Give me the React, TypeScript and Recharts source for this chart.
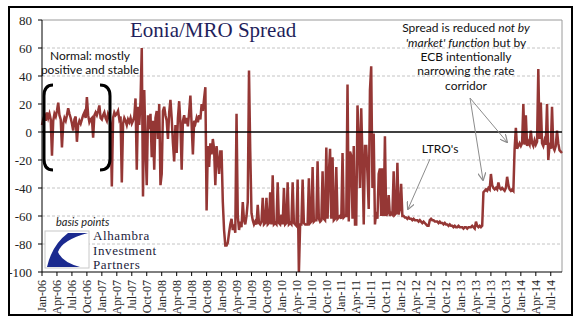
import {
  CartesianGrid,
  Line,
  LineChart,
  ReferenceLine,
  XAxis,
  YAxis,
} from "recharts";

// Eonia minus MRO, basis points, four readings per month from Jan-06
const y2006 = [
  5, 9, 12, 8, 14, 10, 13, 9, -17, 8, 13, 11, 15, 21, 12, 9, -11, 6, 10, 8,
  12, 17, 13, 10, 6, 1, 9, 11, -7, 5, 8, 6, 9, 12, 14, 10, 25, 12, 7, 9, 10,
  -4, 12, 14, 12, 15, 19, 10,
];
const y2007 = [
  9, 12, 14, 10, 8, 13, 11, 6, -39, 10, 14, 12, 13, 15, 9, 11, -36, 6, 10, 8,
  5, 9, 7, 10, 6, 8, 11, 24, -27, 18, 5, 22, 60, -46, 30, -10, -38, 12, 2, 13,
  -18, 8, -27, 10, 15, -5, 20, -38,
];
const y2008 = [
  -30, 15, 18, 12, 8, -5, 14, 23, 10, -8, -21, 5, -15, 10, 22, 6, -27, 8, 12,
  6, 10, 4, 14, 26, 5, -16, 8, 6, 10, 7, 12, 9, 20, 15, 24, 32, -56, -10, -25,
  -8, -16, -5, -12, -38, -10, -20, -30, -14,
];
const y2009 = [
  -14, -50, -70, -81, -81, -79, -72, -66, -62, -70, -66, -72, 13, -60, -70,
  -64, -68, -50, -63, -66, -60, -50, 44, -14, -58, -63, -66, -64, -66, -52, -65,
  -66, -64, -47, -66, -65, -47, -66, -65, -43, -66, -31, -66, -65, -66, -36,
  -65, -66,
];
const y2010 = [
  -59, -66, -40, -66, -65, -36, -66, -65, -66, -36, -65, -66, -67, -34, -101,
  -66, -66, -34, -65, -66, -66, -66, -33, -65, -64, -25, -64, -63, -63, -21,
  -62, -64, -63, -28, -62, -63, -11, -62, -30, -12, -62, -18, -63, -62, -25,
  -62, -61, -60,
];
const y2011 = [
  -62, -15, -61, -60, -60, 34, -64, -14, -17, -62, -10, -66, -66, 19, -5, -40,
  17, -20, -66, -10, -10, -30, -55, 30, 47, -40, -1, -66, -57, -62, -30, -26,
  -60, -26, -60, -3, -60, -58, -45, -60, -58, -59, -28, -59, -58, -22, -59,
  -55,
];
const y2012 = [
  -37, -60, -60, -61, -61, -62, -61, -62, -62, -63, -62, -63, -63, -63, -64,
  -63, -64, -65, -64, -65, -66, -67, -67, -63, -62, -63, -63, -64, -64, -64,
  -65, -64, -65, -65, -66, -65, -66, -66, -67, -66, -67, -67, -68, -67, -68,
  -68, -67, -68,
];
const y2013 = [
  -68, -68, -69, -68, -68, -69, -68, -68, -68, -67, -68, -69, -64, -67, -68,
  -67, -68, -67, -43, -42, -41, -42, -40, -41, -30, -38, -40, -41, -40, -41,
  -36, -40, -41, -40, -41, -42, -40, -32, -38, -41, -42, -41, -42, -12, 3, -12,
  -10, -8,
];
const y2014 = [
  -10, -8, 20, -9, 12, -10, -7, -9, 1, -8, -10, -6, -9, -7, 45, -5, 21, -8, -10,
  -6, -9, 20, -20, -10, -12, 18, -11, -13, -10, 1, -8, -13, -14, -15,
];

const tickLabels = [
  "Jan-06", "Apr-06", "Jul-06", "Oct-06",
  "Jan-07", "Apr-07", "Jul-07", "Oct-07",
  "Jan-08", "Apr-08", "Jul-08", "Oct-08",
  "Jan-09", "Apr-09", "Jul-09", "Oct-09",
  "Jan-10", "Apr-10", "Jul-10", "Oct-10",
  "Jan-11", "Apr-11", "Jul-11", "Oct-11",
  "Jan-12", "Apr-12", "Jul-12", "Oct-12",
  "Jan-13", "Apr-13", "Jul-13", "Oct-13",
  "Jan-14", "Apr-14", "Jul-14",
];
const yTicks = [-100, -80, -60, -40, -20, 0, 20, 40, 60, 80];
const gridValues = [-80, -60, -40, -20, 20, 40, 60];

const spread = [
  ...y2006, ...y2007, ...y2008, ...y2009, ...y2010,
  ...y2011, ...y2012, ...y2013, ...y2014,
];
const data = spread.map((v, i) => ({ i, v }));
const lastIdx = spread.length - 1;
// one label per quarter = every 12 readings
const xTicks = tickLabels.map((_, k) => k * 12);

const serif = "'Liberation Serif', 'Times New Roman', serif";
const sans = "Lato, 'Liberation Sans', sans-serif";

function XTick({ x, y, payload }: any) {
  const label = tickLabels[Math.round(payload.value / 12)];
  return (
    <text
      x={x}
      y={y}
      dy="0.35em"
      transform={`rotate(-90 ${x} ${y})`}
      textAnchor="end"
      fontFamily={serif}
      fontSize={12}
      fill="#222"
    >
      {label}
    </text>
  );
}

function Overlay() {
  const grey = "#8c8c8c";
  return (
    <svg
      width={577}
      height={321}
      style={{ position: "absolute", left: 0, top: 0, pointerEvents: "none" }}
    >
      <defs>
        <marker
          id="head"
          viewBox="0 0 10 10"
          refX="9"
          refY="5"
          markerWidth="8"
          markerHeight="8"
          markerUnits="userSpaceOnUse"
          orient="auto"
        >
          <path d="M0,0 L10,5 L0,10" fill="none" stroke={grey} strokeWidth="1.5" />
        </marker>
      </defs>
      <rect x={9} y={7} width={563} height={308} fill="none" stroke="#000" strokeWidth={2} />

      <text x={130} y={37} fontFamily={serif} fontSize={21} fill="#1f1f5c">
        Eonia/MRO Spread
      </text>

      <g fontFamily={sans} fontSize={12} fill="#111" textAnchor="middle">
        <text x={90} y={60}>Normal: mostly</text>
        <text x={90} y={74}>positive and stable</text>
        <text x={466} y={32}>
          Spread is reduced <tspan fontStyle="italic">not by</tspan>
        </text>
        <text x={466} y={47}>
          <tspan fontStyle="italic">'market' function</tspan> but by
        </text>
        <text x={466} y={61}>ECB intentionally</text>
        <text x={466} y={75}>narrowing the rate</text>
        <text x={466} y={90}>corridor</text>
        <text x={440} y={153}>LTRO's</text>
      </g>

      <g fill="none" stroke="#000" strokeWidth={3}>
        <path d="M53 85 Q44 85 44 96 L44 159 Q44 170 53 170" />
        <path d="M100 85 Q110 85 110 96 L110 159 Q110 170 100 170" />
      </g>

      <g stroke={grey} strokeWidth={1} markerEnd="url(#head)">
        <line x1={430} y1={159} x2={408} y2={209} />
        <line x1={470} y1={98} x2={483} y2={180} />
        <line x1={470} y1={98} x2={507} y2={142} />
      </g>

      <text x={56} y={226} fontFamily={sans} fontStyle="italic" fontSize={11} fill="#222">
        basis points
      </text>
      <rect x={45} y={231} width={44} height={37} fill="#fff" stroke="#c8c8c8" />
      <path
        d="M68 233 L88 233 Q62 240 58 252 Q62 262 80 267 L47 267 Q52 245 68 233 Z"
        fill="#1b2a8f"
      />
      <g fontFamily={serif} fontSize={13} letterSpacing={0.6} fill="#1c1c3c">
        <text x={93} y={240}>Alhambra</text>
        <text x={93} y={254.5}>Investment</text>
        <text x={93} y={269}>Partners</text>
      </g>
    </svg>
  );
}

export default function App() {
  return (
    <div
      style={{
        position: "absolute",
        left: 0,
        top: 0,
        width: 577,
        height: 321,
        background: "#fff",
      }}
    >
      <LineChart
        width={577}
        height={321}
        data={data}
        margin={{ top: 20, right: 15, bottom: 0, left: 0 }}
      >
        <CartesianGrid
          vertical={false}
          horizontalValues={gridValues}
          stroke="#c4c4c4"
          strokeDasharray="3 2"
        />
        <XAxis
          type="number"
          dataKey="i"
          domain={[0, lastIdx]}
          ticks={xTicks}
          interval={0}
          height={49}
          tickSize={4}
          tickMargin={4}
          tick={<XTick />}
          axisLine={{ stroke: "#000" }}
          tickLine={{ stroke: "#000" }}
        />
        <YAxis
          type="number"
          domain={[-100, 80]}
          ticks={yTicks}
          interval={0}
          allowDataOverflow
          width={42}
          tickSize={4}
          tickMargin={6}
          axisLine={{ stroke: "#000" }}
          tickLine={{ stroke: "#000" }}
          tick={{ fontFamily: serif, fontSize: 13, fill: "#222" }}
        />
        <ReferenceLine y={80} stroke="#9a9a9a" />
        <ReferenceLine x={lastIdx} stroke="#9a9a9a" />
        <Line
          type="linear"
          dataKey="v"
          stroke="#953735"
          strokeWidth={2.5}
          dot={false}
          isAnimationActive={false}
        />
        <ReferenceLine y={0} stroke="#000" strokeWidth={1.3} />
      </LineChart>
      <Overlay />
    </div>
  );
}
